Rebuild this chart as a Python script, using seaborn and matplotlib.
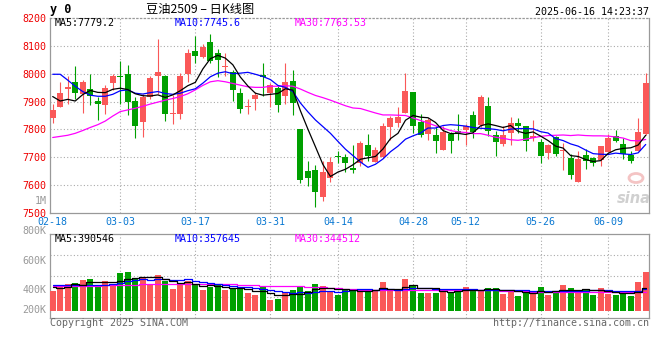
import numpy as np
import pandas as pd
import seaborn as sns
import matplotlib
matplotlib.use("Agg")
import matplotlib.pyplot as plt
from matplotlib.patches import Ellipse

# 豆油2509 日K (02-18 ~ 06-16)
opens = [7841, 7882, 7946, 7970, 7927, 7945, 7902, 7889, 7966, 7991,
         7998, 7903, 7828, 7915, 7992, 7992, 7856, 7855, 7998, 8080,
         8060, 8113, 8074, 8025, 8007, 7930, 7880, 7909, 7994, 7930,
         7950, 7921, 7973, 7802, 7652, 7655, 7559, 7624, 7702, 7701,
         7663, 7680, 7744, 7682, 7700, 7810, 7823, 7859, 7934, 7827,
         7784, 7780, 7727, 7784, 7793, 7799, 7852, 7816, 7883, 7779,
         7748, 7788, 7823, 7811, 7770, 7755, 7715, 7772, 7721, 7698,
         7613, 7708, 7698, 7692, 7720, 7776, 7748, 7707, 7721, 7784]
closes = [7870, 7929, 7953, 7929, 7970, 7921, 7892, 7948, 7991, 7987,
          7899, 7813, 7917, 7984, 8006, 7855, 7860, 7991, 8074, 8064,
          8096, 8044, 8050, 8027, 7942, 7874, 7885, 7923, 7989, 7958,
          7889, 7972, 7896, 7620, 7627, 7577, 7648, 7683, 7700, 7679,
          7654, 7751, 7705, 7726, 7812, 7841, 7846, 7938, 7813, 7780,
          7833, 7760, 7792, 7760, 7787, 7813, 7790, 7916, 7796, 7755,
          7780, 7823, 7813, 7760, 7778, 7706, 7744, 7713, 7726, 7638,
          7695, 7688, 7679, 7739, 7769, 7760, 7712, 7688, 7791, 7966]
highs = [7893, 7969, 7993, 8027, 7977, 7999, 7915, 7960, 7999, 8044,
         8031, 7915, 7927, 7993, 8125, 7995, 7925, 8001, 8088, 8136,
         8108, 8142, 8090, 8076, 8013, 7948, 7908, 7933, 8040, 7965,
         7957, 8037, 8013, 7802, 7688, 7671, 7686, 7702, 7724, 7712,
         7744, 7760, 7784, 7736, 7823, 7849, 7880, 8001, 7934, 7855,
         7841, 7813, 7812, 7790, 7855, 7819, 7867, 7925, 7916, 7796,
         7813, 7843, 7840, 7811, 7834, 7766, 7748, 7775, 7751, 7712,
         7723, 7730, 7702, 7742, 7784, 7798, 7769, 7724, 7841, 8001]
lows = [7824, 7879, 7891, 7910, 7859, 7889, 7834, 7855, 7941, 7893,
        7853, 7769, 7772, 7909, 7927, 7829, 7819, 7839, 7972, 8040,
        8058, 8038, 7987, 7993, 7901, 7859, 7855, 7871, 7921, 7879,
        7862, 7893, 7853, 7609, 7597, 7521, 7542, 7612, 7679, 7648,
        7643, 7670, 7688, 7682, 7696, 7762, 7808, 7859, 7788, 7772,
        7762, 7714, 7727, 7714, 7763, 7745, 7769, 7810, 7778, 7706,
        7742, 7745, 7788, 7724, 7760, 7680, 7694, 7706, 7656, 7622,
        7613, 7659, 7667, 7667, 7720, 7754, 7694, 7680, 7721, 7781]

ma5 = [7918, 7902, 7908, 7902, 7925, 7940, 7933, 7932, 7944, 7948,
       7943, 7928, 7921, 7920, 7924, 7915, 7924, 7939, 7957, 7969,
       8017, 8054, 8066, 8056, 8032, 7988, 7956, 7930, 7923, 7926,
       7929, 7946, 7941, 7867, 7801, 7738, 7674, 7631, 7647, 7657,
       7673, 7693, 7698, 7703, 7730, 7767, 7786, 7833, 7850, 7844,
       7842, 7825, 7796, 7785, 7786, 7782, 7788, 7813, 7820, 7814,
       7807, 7814, 7793, 7786, 7791, 7776, 7760, 7740, 7733, 7706,
       7703, 7692, 7685, 7688, 7714, 7727, 7732, 7734, 7744, 7779]
ma10 = [7998, 7998, 7977, 7955, 7936, 7923, 7919, 7919, 7926, 7939,
        7942, 7930, 7927, 7932, 7936, 7929, 7926, 7930, 7939, 7946,
        7966, 7989, 8002, 8007, 8000, 8002, 8005, 7998, 7990, 7979,
        7958, 7951, 7936, 7895, 7863, 7834, 7810, 7786, 7757, 7729,
        7706, 7683, 7664, 7675, 7694, 7720, 7740, 7765, 7777, 7787,
        7805, 7805, 7814, 7817, 7815, 7812, 7807, 7804, 7803, 7800,
        7795, 7801, 7803, 7803, 7802, 7792, 7787, 7767, 7760, 7748,
        7740, 7726, 7713, 7711, 7710, 7715, 7712, 7710, 7716, 7746]
ma30 = [7771, 7775, 7779, 7786, 7796, 7807, 7817, 7830, 7848, 7864,
        7870, 7876, 7883, 7891, 7898, 7905, 7911, 7918, 7928, 7942,
        7958, 7971, 7975, 7971, 7965, 7959, 7953, 7951, 7951, 7955,
        7955, 7957, 7955, 7945, 7933, 7922, 7914, 7905, 7895, 7885,
        7877, 7875, 7867, 7859, 7852, 7852, 7851, 7850, 7841, 7832,
        7823, 7813, 7805, 7796, 7791, 7789, 7785, 7785, 7779, 7772,
        7768, 7763, 7761, 7765, 7770, 7775, 7778, 7779, 7780, 7778,
        7780, 7778, 7777, 7777, 7776, 7773, 7769, 7760, 7759, 7764]

# 成交量 (单位: 千手)
vol = [393, 422, 441, 447, 468, 475, 422, 461, 436, 518,
       524, 479, 488, 434, 502, 461, 407, 445, 459, 434,
       400, 422, 432, 400, 407, 407, 382, 366, 420, 332,
       339, 377, 400, 418, 393, 441, 427, 393, 366, 400,
       405, 400, 405, 393, 454, 400, 393, 475, 432, 382,
       382, 382, 393, 389, 407, 420, 393, 400, 414, 414,
       373, 393, 359, 389, 393, 420, 366, 382, 434, 414,
       400, 400, 366, 414, 373, 366, 377, 359, 454, 524]
vol_ma5 = [422, 415, 418, 441, 434, 451, 451, 455, 452, 462,
           472, 484, 489, 489, 485, 473, 458, 450, 455, 441,
           429, 432, 429, 418, 412, 414, 406, 392, 396, 381,
           368, 367, 374, 373, 385, 406, 416, 414, 404, 405,
           398, 393, 395, 401, 411, 410, 409, 423, 431, 416,
           413, 411, 394, 386, 391, 398, 400, 402, 407, 408,
           399, 399, 391, 386, 381, 391, 385, 390, 399, 403,
           399, 406, 403, 399, 391, 384, 379, 378, 386, 416]
vol_ma10 = [434, 434, 434, 434, 434, 434, 434, 434, 440, 448,
            462, 468, 472, 471, 474, 473, 471, 470, 472, 463,
            451, 445, 440, 437, 427, 422, 419, 411, 407, 397,
            391, 387, 383, 385, 383, 387, 392, 394, 389, 395,
            402, 405, 405, 403, 408, 404, 401, 409, 416, 414,
            412, 410, 409, 409, 404, 406, 406, 398, 397, 400,
            399, 400, 397, 397, 395, 395, 392, 391, 393, 392,
            395, 396, 397, 399, 397, 392, 393, 391, 393, 404]
vol_ma30 = [427, 427, 427, 427, 428, 429, 430, 431, 432, 433,
            435, 437, 439, 440, 441, 441, 441, 441, 441, 441,
            441, 440, 440, 439, 438, 436, 434, 432, 430, 428,
            426, 425, 425, 424, 423, 422, 420, 416, 412, 408,
            405, 403, 402, 401, 401, 400, 400, 400, 400, 400,
            400, 400, 400, 400, 400, 400, 400, 399, 398, 397,
            395, 393, 391, 390, 389, 389, 389, 389, 389, 389,
            389, 388, 387, 386, 385, 384, 384, 384, 385, 387]

tick_idx = [0, 9, 19, 29, 38, 48, 55, 65, 74]
tick_labels = ["02-18", "03-03", "03-17", "03-31", "04-14", "04-28", "05-12", "05-26", "06-09"]
price_ticks = [7500, 7600, 7700, 7800, 7900, 8000, 8100, 8200]
vol_ticks = [800, 600, 400]

RED = "#fa5858"
GREEN = "#00a000"
GRID = "#aaaaaa"
MONO = "DejaVu Sans Mono"

sns.set_theme(style="white")
plt.rcParams["font.family"] = [MONO, "Noto Sans CJK SC"]

W, H = 660, 360
fig = plt.figure(figsize=(W / 100, H / 100), dpi=100)
fig.patch.set_facecolor("white")


def fx(x):
    return x / W


def fy(y):
    return 1 - y / H


ax = fig.add_axes([fx(50.3), fy(213), fx(649.3) - fx(50.3), fy(18) - fy(213)])
axv = fig.add_axes([fx(50.3), fy(317.7), fx(649.3) - fx(50.3), fy(234.3) - fy(317.7)])

df = pd.DataFrame({"open": opens, "high": highs, "low": lows, "close": closes, "vol": vol})
df["i"] = np.arange(len(df))
df["color"] = np.where(df["close"] >= df["open"], RED, GREEN)

# K线
ax.vlines(df["i"], df["low"], df["high"], colors=df["color"], lw=0.8, zorder=3)
body = (df["close"] - df["open"]).abs().clip(lower=3.6)
ax.bar(df["i"], body, bottom=df[["open", "close"]].min(axis=1), width=0.8,
       color=df["color"], linewidth=0, zorder=3)

for vals, c in [(ma30, "#ff00ff"), (ma10, "#0000ff"), (ma5, "black")]:
    sns.lineplot(x=df["i"], y=vals, ax=ax, color=c, lw=0.9, estimator=None, legend=False, zorder=4)

ax.set_xlim(-0.32, 79.48)
ax.set_ylim(7500, 8200)
ax.set_yticks(price_ticks)
ax.set_xticks(tick_idx)
ax.set_xticklabels(tick_labels)
ax.set_xlabel("")
ax.set_ylabel("")
ax.tick_params(axis="y", length=0, pad=2.6, labelcolor="#ee0000", labelsize=7.2)
ax.tick_params(axis="x", length=0, pad=2.8, labelcolor="#0a78d2", labelsize=7.2)
for p in price_ticks[1:-1]:
    ax.axhline(p, color=GRID, lw=0.8, ls=(0, (1, 2)), zorder=1)
for t in tick_idx[1:]:
    ax.axvline(t, color=GRID, lw=0.8, ls=(0, (1, 2)), zorder=1)

# 成交量
VOL_LO, VOL_HI, VOL_BASE = 212, 778, 260
axv.bar(df["i"], df["vol"] - VOL_BASE, bottom=VOL_BASE, width=0.8,
        color=df["color"], linewidth=0, zorder=3)
for vals, c in [(vol_ma30, "#ff00ff"), (vol_ma10, "#0000ff"), (vol_ma5, "black")]:
    sns.lineplot(x=df["i"], y=vals, ax=axv, color=c, lw=0.9, estimator=None,
                 legend=False, drawstyle="steps-mid", zorder=4)
axv.set_xlim(-0.32, 79.48)
axv.set_ylim(VOL_LO, VOL_HI)
axv.set_xticks([])
axv.set_yticks([])
axv.set_xlabel("")
axv.set_ylabel("")
for f in [0.25, 0.5, 0.75]:
    axv.axhline(VOL_LO + f * (VOL_HI - VOL_LO), color=GRID, lw=0.8, ls=(0, (1, 2)), zorder=1)
for t in tick_idx[1:]:
    axv.axvline(t, color=GRID, lw=0.8, ls=(0, (1, 2)), zorder=1)
ytr = axv.get_yaxis_transform()
for v in vol_ticks:
    axv.text(-0.006, v, f"{v}K", transform=ytr, ha="right", va="center",
             color="#999999", fontsize=7.2, family=MONO, clip_on=False)
axv.text(-0.006, 0.092, "200K", transform=axv.transAxes, ha="right", va="center",
         color="#999999", fontsize=7.2, family=MONO)

for a in (ax, axv):
    a.set_facecolor("white")
    for s in a.spines.values():
        s.set_color("#999999")
        s.set_linewidth(0.9)
ax.spines["top"].set_linestyle((0, (1, 2)))

# 文字
def ptext(x, y, s, **kw):
    kw.setdefault("family", MONO)
    kw.setdefault("fontsize", 7.2)
    kw.setdefault("va", "center")
    fig.text(fx(x), fy(y), s, **kw)


ptext(50, 10, "y 0", fontsize=8.5, weight="bold", color="black")
ptext(200, 10, "豆油2509 – 日K线图", ha="center", fontsize=8.8,
      family=["Noto Sans CJK SC", "DejaVu Sans"], color="black")
ptext(649.3, 12, "2025-06-16 14:23:37", ha="right", color="black")
ptext(55, 23.3, "MA5:7779.2", color="black")
ptext(175, 23.3, "MA10:7745.6", color="#0000ff")
ptext(295, 23.3, "MA30:7763.53", color="#ff00ff")
ptext(46.7, 200.7, "1M", ha="right", color="#999999")
ptext(55, 238.5, "MA5:390546", color="black")
ptext(175, 238.5, "MA10:357645", color="#0000ff")
ptext(295, 238.5, "MA30:344512", color="#ff00ff")
ptext(50, 323.5, "Copyright 2025 SINA.COM", ha="left", color="#666666")
ptext(649.3, 323.5, "http://finance.sina.com.cn", ha="right", color="#666666")

# sina 水印
fig.add_artist(Ellipse((fx(636), fy(178)), 14 / W, 9 / H, transform=fig.transFigure,
                       facecolor="none", edgecolor="#f4c4c4", lw=2.0))
ptext(634, 198, "sina", ha="center", fontsize=10.5, style="italic", weight="bold",
      family="DejaVu Sans", color="#d0d0d0")

plt.savefig("out.png", dpi=100)
plt.close()
